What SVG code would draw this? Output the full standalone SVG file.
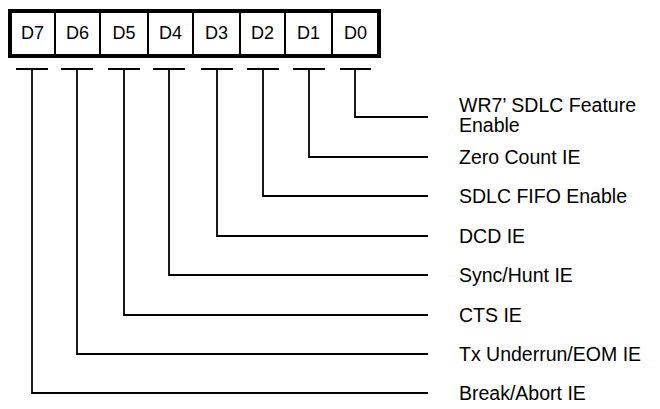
<svg xmlns="http://www.w3.org/2000/svg" width="660" height="409" viewBox="0 0 660 409">
<style>
.bit{font-family:"Liberation Sans",Arial,sans-serif;font-size:18px;fill:#000;text-anchor:middle}
.lbl{font-family:"Liberation Sans",Arial,sans-serif;font-size:19.5px;fill:#000}
.div{stroke:#000;stroke-width:2;fill:none}
.con{stroke:#000;stroke-width:1.8;fill:none}
</style>
<rect width="660" height="409" fill="#fff"/>
<g id="register">
<rect x="10" y="11" width="369" height="45" fill="#fff" stroke="#000" stroke-width="4"/>
<path class="div" d="M55,11V56M100,11V56M148,11V56M193,11V56M240,11V56M285,11V56M332,11V56"/>
</g>
<g id="bit-d7"><text class="bit" x="32.5" y="39">D7</text></g>
<g id="bit-d6"><text class="bit" x="77.5" y="39">D6</text></g>
<g id="bit-d5"><text class="bit" x="124" y="39">D5</text></g>
<g id="bit-d4"><text class="bit" x="170.5" y="39">D4</text></g>
<g id="bit-d3"><text class="bit" x="216.5" y="39">D3</text></g>
<g id="bit-d2"><text class="bit" x="262.5" y="39">D2</text></g>
<g id="bit-d1"><text class="bit" x="308.5" y="39">D1</text></g>
<g id="bit-d0"><text class="bit" x="355.5" y="39">D0</text></g>
<g id="connectors">
<path class="con" d="M16,69H48M32,69V393H428"/>
<path class="con" d="M61,69H93M77,69V354H428"/>
<path class="con" d="M108,69H140M124,69V315H428"/>
<path class="con" d="M153,69H185M169,69V275H428"/>
<path class="con" d="M201,69H233M217,69V236H428"/>
<path class="con" d="M247,69H279M263,69V196H428"/>
<path class="con" d="M293,69H325M309,69V157H428"/>
<path class="con" d="M340,69H371M355,69V117H428"/>
</g>
<g id="label-d0"><text class="lbl" x="459" y="112">WR7’ SDLC Feature</text><text class="lbl" x="459" y="132">Enable</text></g>
<g id="label-d1"><text class="lbl" x="459" y="164">Zero Count IE</text></g>
<g id="label-d2"><text class="lbl" x="459" y="203">SDLC FIFO Enable</text></g>
<g id="label-d3"><text class="lbl" x="459" y="243">DCD IE</text></g>
<g id="label-d4"><text class="lbl" x="459" y="282">Sync/Hunt IE</text></g>
<g id="label-d5"><text class="lbl" x="459" y="322">CTS IE</text></g>
<g id="label-d6"><text class="lbl" x="459" y="361">Tx Underrun/EOM IE</text></g>
<g id="label-d7"><text class="lbl" x="459" y="400">Break/Abort IE</text></g>
</svg>
